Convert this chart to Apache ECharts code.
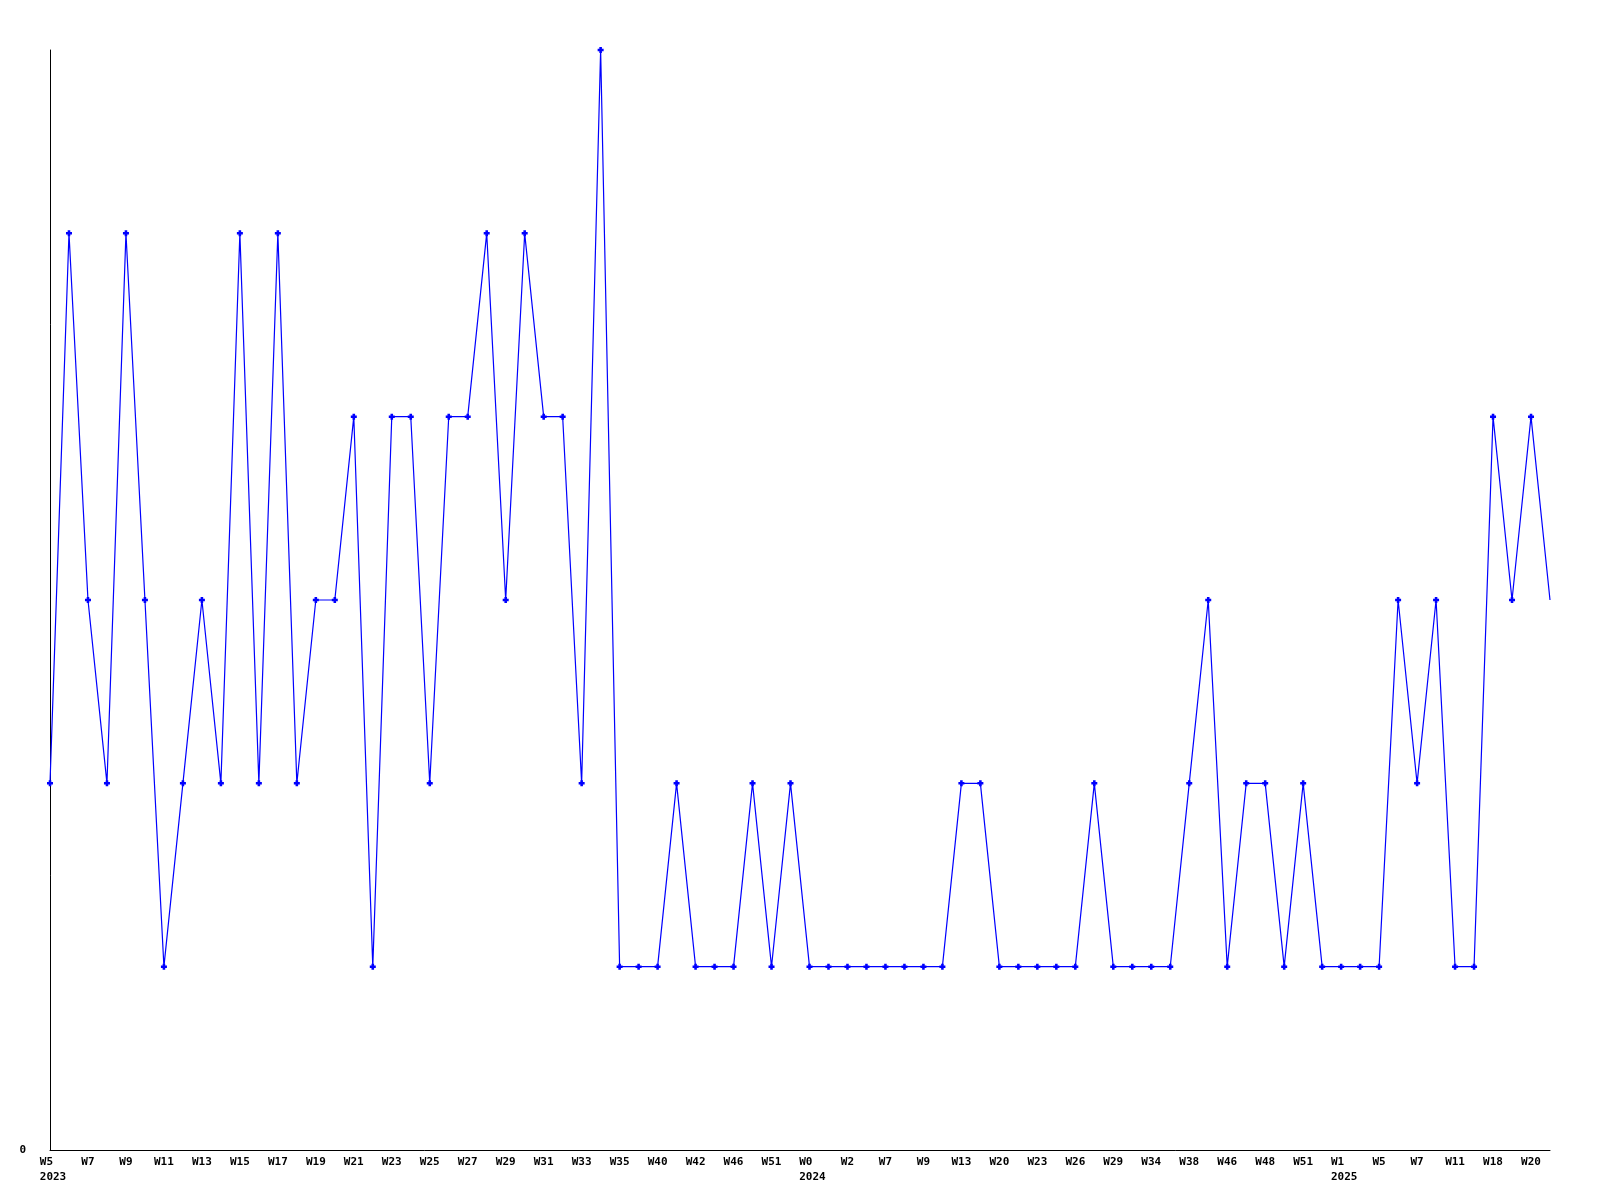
<!DOCTYPE html>
<html>
<head>
<meta charset="utf-8">
<script src="https://cdn.jsdelivr.net/npm/echarts@6/dist/echarts.min.js"></script>
<style>
html,body{margin:0;padding:0;background:#fff;}
#chart{width:1600px;height:1200px;}
</style>
</head>
<body>
<div id="chart"></div>
<script>
const weeks = [
 'W5','W6','W7','W8','W9','W10','W11','W12','W13','W14','W15','W16','W17','W18','W19','W20',
 'W21','W22','W23','W24','W25','W26','W27','W28','W29','W30','W31','W32','W33','W34','W35',
 'W38','W40','W41','W42','W44','W46','W48','W51','W52',
 'W0','W1','W2','W5','W7','W8','W9','W11','W13','W16','W20','W21','W23','W25','W26','W28',
 'W29','W31','W34','W36','W38','W42','W46','W47','W48','W49','W51','W52',
 'W1','W3','W5','W6','W7','W9','W11','W13','W18','W19','W20','W21'
];
const yearMarks = {0:'2023', 40:'2024', 68:'2025'};
const values = [
 2,5,3,2,5,3,1,2,3,2,5,2,5,2,3,3,
 4,1,4,4,2,4,4,5,3,5,4,4,2,6,1,
 1,1,2,1,1,1,2,1,2,
 1,1,1,1,1,1,1,1,2,2,1,1,1,1,1,2,
 1,1,1,1,2,3,1,2,2,1,2,1,
 1,1,1,3,2,3,1,1,4,3,4,3
];
const yTickLabels = ['0'];

const categories = weeks.map((w,i)=> yearMarks[i] ? '{wy|'+w+'}\n{yy|'+yearMarks[i]+'}' : '{w|'+w+'}');
const seriesData = values.map((v,i)=> i===values.length-1 ? {value:v, symbol:'none'} : v);

const chart = echarts.init(document.getElementById('chart'), null, {renderer:'canvas'});
const font = '"DejaVu Sans Mono", monospace';
const txt = {fontFamily:font,fontWeight:'bold',fontSize:11,color:'#000',lineHeight:15};
chart.setOption({
  animation:false,
  backgroundColor:'#ffffff',
  grid:{left:50,right:50,top:50,bottom:50,containLabel:false},
  xAxis:{
    type:'category',
    boundaryGap:false,
    data:categories,
    axisLine:{lineStyle:{color:'#000',width:1}},
    axisTick:{show:false},
    splitLine:{show:false},
    axisLabel:{
      interval:1,
      margin:5,
      color:'#000',
      fontFamily:font,
      fontWeight:'bold',
      fontSize:11,
      align:'center',
      lineHeight:15,
      rich:{
        w:Object.assign({},txt),
        wy:Object.assign({align:'left',padding:[0,0,0,6]},txt),
        yy:Object.assign({align:'left',padding:[0,0,0,6]},txt)
      }
    }
  },
  yAxis:{
    type:'value',
    min:0,max:6,interval:6,
    axisLine:{show:true,lineStyle:{color:'#000',width:1}},
    axisTick:{show:false},
    splitLine:{show:false},
    axisLabel:{
      margin:24,
      color:'#000',
      fontFamily:font,
      fontWeight:'bold',
      fontSize:11,
      formatter:function(v){return v===0 ? yTickLabels[0] : '';}
    }
  },
  series:[{
    type:'line',
    data:seriesData,
    showAllSymbol:true,
    symbol:'path://M2,0H5V2H7V5H5V7H2V5H0V2H2Z',
    symbolSize:6,
    lineStyle:{color:'#0000ff',width:1.2},
    itemStyle:{color:'#0000ff'},
    clip:false
  }]
});
</script>
</body>
</html>
